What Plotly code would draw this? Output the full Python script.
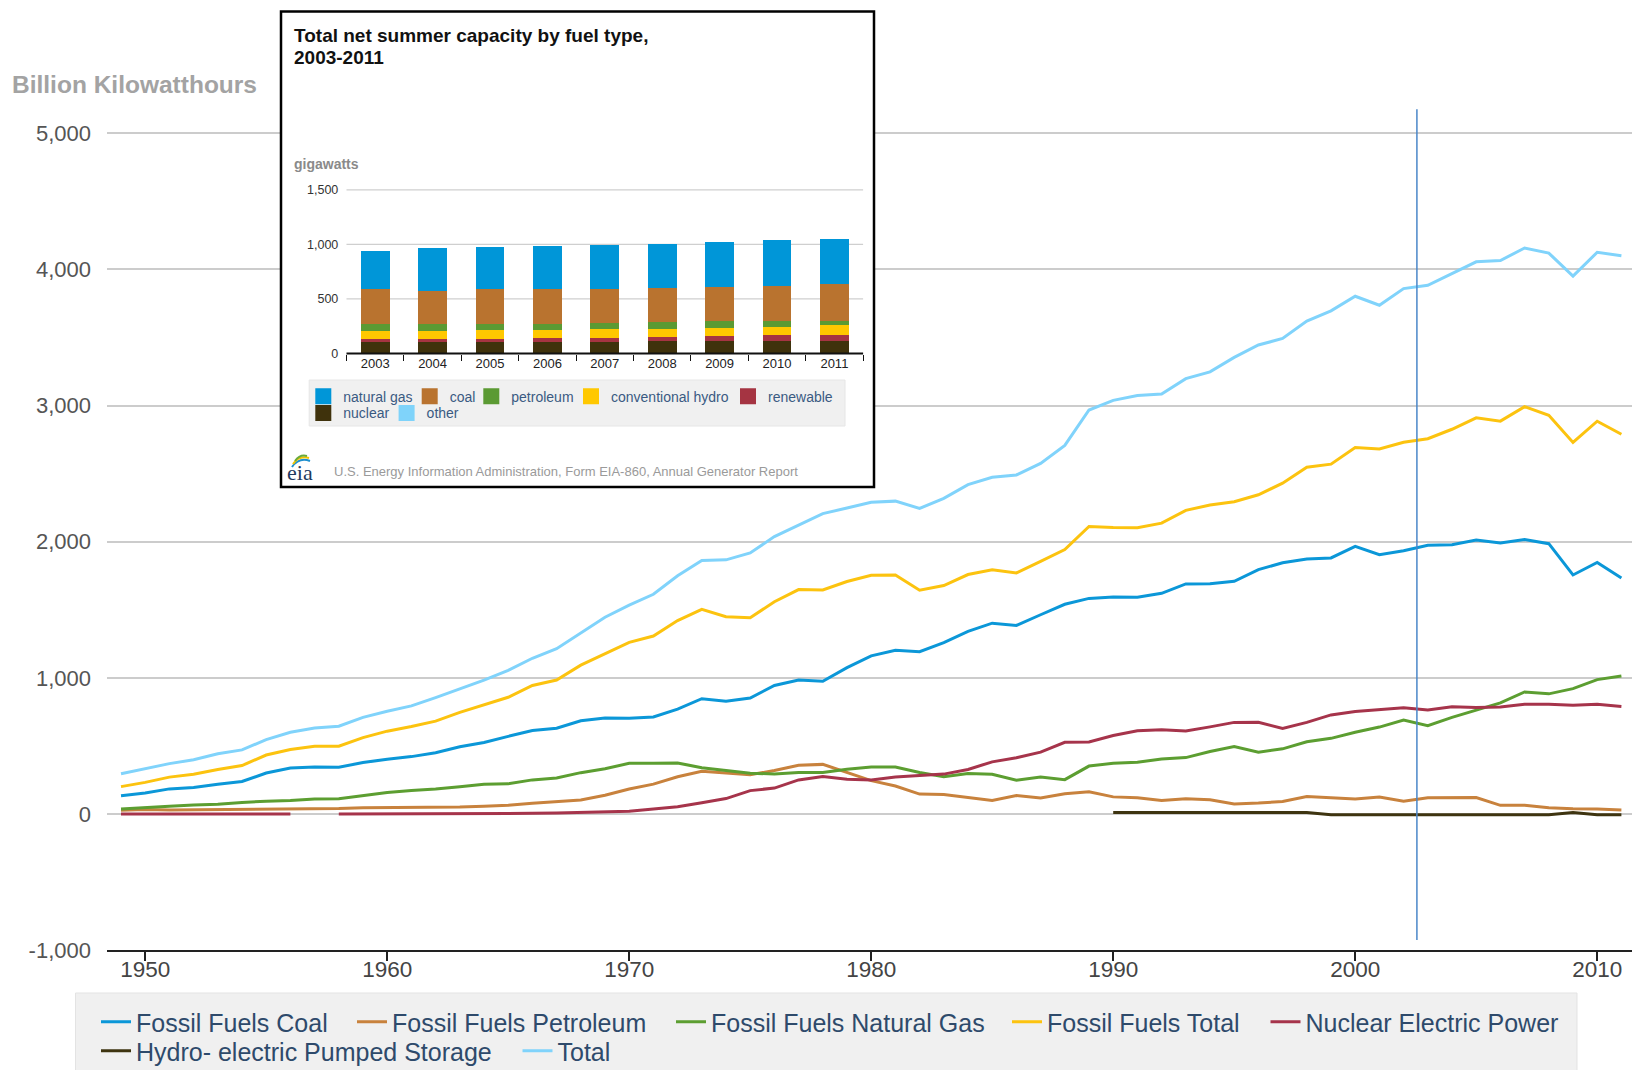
import plotly.graph_objects as go

# the figure fills the whole 1632x1070 page (body margin removed after drawing)
W, H = 1632, 1070
FONT = "Liberation Sans, Arial, sans-serif"

def px(x):
    return x / W

def py(y):
    return 1 - y / H

# ---------------- main chart data (billion kWh) ----------------
years = list(range(1949, 2012))

coal = [135.5, 154.5, 185.2, 195.4, 218.8, 239.1, 301.4, 338.5, 346.4, 344.4,
        378.4, 403.1, 422.2, 450.2, 493.9, 526.2, 570.9, 613.5, 630.5, 684.9,
        706.0, 704.4, 713.1, 771.1, 847.7, 828.4, 852.8, 944.4, 985.2, 975.7,
        1075.0, 1161.6, 1203.2, 1192.0, 1259.4, 1341.7, 1402.1, 1385.8, 1463.8, 1540.7,
        1583.8, 1594.0, 1592.2, 1621.2, 1690.1, 1690.7, 1709.4, 1795.2, 1845.0, 1873.5,
        1881.1, 1966.3, 1904.0, 1933.1, 1973.7, 1978.3, 2012.9, 1990.5, 2016.5, 1985.8,
        1755.9, 1847.3, 1733.4]

petroleum = [29.1, 33.7, 29.3, 30.6, 37.0, 32.8, 37.1, 36.3, 40.5, 40.4,
             47.0, 48.0, 48.5, 48.4, 52.0, 57.7, 64.8, 79.6, 89.3, 104.3,
             138.1, 184.2, 220.2, 274.3, 314.3, 300.9, 289.1, 320.0, 358.2, 365.1,
             303.5, 246.0, 206.4, 146.8, 144.5, 119.8, 100.2, 136.6, 118.5, 148.9,
             164.4, 126.5, 119.8, 100.2, 112.8, 105.9, 74.6, 81.4, 92.6, 128.8,
             118.1, 111.2, 124.9, 94.6, 119.4, 121.1, 122.2, 64.2, 65.7, 46.2,
             38.9, 37.1, 30.2]

natural_gas = [37.0, 44.6, 57.0, 66.5, 72.1, 84.8, 95.3, 100.0, 111.6, 113.4,
               136.0, 157.9, 173.2, 184.3, 201.6, 220.0, 222.1, 251.2, 264.8, 304.4,
               333.3, 372.9, 374.0, 375.7, 340.9, 320.1, 299.8, 294.6, 305.5, 305.4,
               329.5, 346.2, 345.8, 305.3, 274.1, 297.4, 291.9, 248.5, 272.6, 252.8,
               352.6, 372.8, 381.6, 404.1, 414.9, 460.2, 496.1, 455.1, 479.4, 531.3,
               556.4, 601.0, 639.1, 691.0, 649.9, 710.1, 761.0, 816.4, 896.6, 883.0,
               921.0, 987.7, 1013.7]

fossil_total = [201.8, 232.8, 271.5, 292.5, 327.9, 356.7, 433.8, 474.8, 498.5, 498.2,
                561.4, 609.0, 643.9, 682.9, 747.5, 803.9, 857.8, 944.3, 984.6, 1093.6,
                1177.4, 1261.5, 1307.3, 1421.1, 1502.9, 1449.4, 1441.7, 1559.0, 1648.9, 1646.2,
                1708.0, 1753.8, 1755.4, 1644.1, 1678.0, 1758.9, 1794.2, 1770.9, 1854.9, 1942.4,
                2111.9, 2103.6, 2103.0, 2136.6, 2230.5, 2269.3, 2293.5, 2344.4, 2430.0, 2547.3,
                2569.7, 2692.5, 2680.8, 2730.4, 2756.0, 2825.7, 2909.5, 2885.2, 2992.2, 2928.0,
                2729.4, 2885.0, 2789.4]

nuclear = [0, 0, 0, 0, 0, 0, 0, 0, None, 0.2,
           0.2, 0.5, 1.7, 2.3, 3.2, 3.3, 3.7, 5.5, 7.7, 12.5,
           13.9, 21.8, 38.1, 54.1, 83.5, 114.0, 172.5, 191.1, 250.9, 276.4,
           255.2, 251.1, 272.7, 282.8, 293.7, 327.6, 383.7, 414.0, 455.3, 527.0,
           529.4, 576.9, 612.6, 618.8, 610.3, 640.4, 673.4, 674.7, 628.6, 673.7,
           728.3, 753.9, 768.8, 780.1, 763.7, 788.5, 782.0, 787.2, 806.4, 806.2,
           798.9, 807.0, 790.2]

pumped_storage = [None] * 41 + [12, 12, 12, 12, 12, 12, 12, 12, 12,
                                -5, -5, -5, -5, -5, -5, -5, -5, -5, -5,
                                12, -5, -5]

total = [296.1, 334.1, 370.7, 399.2, 442.7, 471.7, 547.0, 600.7, 631.5, 645.0,
         710.0, 755.3, 794.5, 855.0, 916.8, 984.0, 1055.3, 1144.4, 1214.4, 1329.4,
         1445.5, 1535.1, 1613.9, 1750.0, 1861.4, 1867.1, 1917.6, 2037.7, 2124.3, 2206.3,
         2247.4, 2289.6, 2298.0, 2244.4, 2318.1, 2419.5, 2473.0, 2490.5, 2575.3, 2707.4,
         2967.1, 3037.8, 3073.8, 3083.9, 3197.2, 3247.5, 3353.5, 3444.2, 3492.2, 3620.3,
         3694.8, 3802.1, 3736.6, 3858.5, 3883.2, 3970.6, 4055.4, 4064.7, 4156.7, 4119.4,
         3950.3, 4125.1, 4100.1]

series_names = ["Fossil Fuels Coal", "Fossil Fuels Petroleum", "Fossil Fuels Natural Gas",
                "Fossil Fuels Total", "Nuclear Electric Power",
                "Hydro- electric Pumped Storage", "Total"]
series_values = [coal, petroleum, natural_gas, fossil_total, nuclear, pumped_storage, total]
series_colors = ["#0b97d8", "#c8823d", "#5c9e31", "#fcc30f", "#a6344b", "#3e3410", "#80d3fb"]

y_tickvals = [-1000, 0, 1000, 2000, 3000, 4000, 5000]
y_ticktext = ["-1,000", "0", "1,000", "2,000", "3,000", "4,000", "5,000"]
x_tickvals = [1950, 1960, 1970, 1980, 1990, 2000, 2010]

# ---------------- inset data (gigawatts) ----------------
inset_years = ["2003", "2004", "2005", "2006", "2007", "2008", "2009", "2010", "2011"]
inset_names = ["other", "nuclear", "renewable", "conventional hydro", "petroleum", "coal", "natural gas"]
inset_other = [6, 6, 6, 6, 6, 6, 6, 6, 6]
inset_nuclear = [100, 99, 99, 99, 99, 106, 106, 106, 106]
inset_renewable = [24, 25, 25, 34, 34, 39, 48, 58, 58]
inset_hydro = [77, 77, 86, 74, 86, 74, 75, 77, 89]
inset_petroleum = [65, 65, 56, 59, 56, 68, 64, 52, 40]
inset_coal = [321, 305, 321, 321, 312, 309, 312, 324, 334]
inset_gas = [348, 386, 382, 392, 404, 404, 408, 417, 416]
inset_values = [inset_other, inset_nuclear, inset_renewable, inset_hydro,
                inset_petroleum, inset_coal, inset_gas]
inset_colors = ["#7fd3fa", "#3f320c", "#a53442", "#ffc800", "#5b9a33", "#b9732f", "#0096d8"]
inset_ytickvals = [0, 500, 1000, 1500]
inset_yticktext = ["0", "500", "1,000", "1,500"]

fig = go.Figure()

# main legend positions (text start x, row center y) in page pixels
main_legend_pos = [(136, 1022), (392, 1022), (711, 1022), (1047, 1022), (1305.5, 1022),
                   (136, 1051), (557.5, 1051)]

legends = {}
for i, (name, vals, col) in enumerate(zip(series_names, series_values, series_colors)):
    lname = "legend" if i == 0 else f"legend{i + 1}"
    fig.add_trace(go.Scatter(x=years, y=vals, mode="lines", name=name,
                             line=dict(color=col, width=3), legend=lname,
                             connectgaps=False, hoverinfo="skip",
                             xaxis="x", yaxis="y"))
    tx, ty = main_legend_pos[i]
    legends[lname] = dict(x=px(tx - 40), y=py(ty), xanchor="left", yanchor="middle",
                          orientation="h", bgcolor="rgba(0,0,0,0)", borderwidth=0,
                          itemwidth=30, font=dict(family=FONT, size=25, color="#2e4a6b"))

# inset bars
for name, vals, col in zip(inset_names, inset_values, inset_colors):
    fig.add_trace(go.Bar(x=inset_years, y=vals, name=name, marker=dict(color=col, line=dict(width=0)),
                         width=0.5, showlegend=False, hoverinfo="skip",
                         xaxis="x2", yaxis="y2"))

# inset legend (legend-only entries)
inset_legend_order = ["natural gas", "coal", "petroleum", "conventional hydro", "renewable",
                      "nuclear", "other"]
inset_legend_pos = [(343.3, 396.7), (449.7, 396.7), (511.3, 396.7), (611, 396.7), (768, 396.7),
                    (343.3, 413.3), (426.6, 413.3)]
for j, name in enumerate(inset_legend_order):
    col = inset_colors[inset_names.index(name)]
    lname = f"legend{8 + j}"
    fig.add_trace(go.Scatter(x=[None], y=[None], mode="markers", name=name,
                             marker=dict(symbol="square", size=16, color=col),
                             legend=lname, hoverinfo="skip", xaxis="x", yaxis="y"))
    tx, ty = inset_legend_pos[j]
    legends[lname] = dict(x=px(tx - 40), y=py(ty), xanchor="left", yanchor="middle",
                          orientation="h", bgcolor="rgba(0,0,0,0)", borderwidth=0,
                          itemwidth=30, font=dict(family=FONT, size=14, color="#3a5a82"))

shapes = []
# main legend background
shapes.append(dict(type="rect", xref="paper", yref="paper", x0=px(75.5), x1=px(1577),
                   y0=py(1075), y1=py(993), fillcolor="#f0f0f0",
                   line=dict(color="#e3e3e3", width=1), layer="below"))
# highlight vertical line
shapes.append(dict(type="line", xref="x", yref="y", x0=2002.55, x1=2002.55, y0=-925, y1=5175,
                   line=dict(color="#4a87c9", width=1.5), layer="above"))
# inset gridlines
for v in inset_ytickvals[1:]:
    shapes.append(dict(type="line", xref="x2", yref="y2", x0=-0.5, x1=8.5, y0=v, y1=v,
                       line=dict(color="#cfcfcf", width=1.2), layer="below"))
# inset baseline
shapes.append(dict(type="line", xref="x2", yref="y2", x0=-0.5, x1=8.5, y0=0, y1=0,
                   line=dict(color="#111111", width=2), layer="above"))
# inset legend background
shapes.append(dict(type="rect", xref="paper", yref="paper", x0=px(309.2), x1=px(845),
                   y0=py(426), y1=py(380), fillcolor="#f0f0f0",
                   line=dict(color="#e6e6e6", width=1), layer="above"))
# inset border
shapes.append(dict(type="rect", xref="paper", yref="paper", x0=px(281), x1=px(874),
                   y0=py(487), y1=py(11.5), fillcolor="rgba(0,0,0,0)",
                   line=dict(color="#000000", width=2.5), layer="above"))
# eia logo arcs
def arc(p0, c, p1):
    return (f"M {px(p0[0])} {py(p0[1])} Q {px(c[0])} {py(c[1])} {px(p1[0])} {py(p1[1])}")
for (p0, c, p1), col in [(((292, 467), (299, 457), (310, 461)), "#1e90cf"),
                          (((293, 464), (299, 455), (309, 458)), "#f5c400"),
                          (((295, 461), (300, 454), (307, 456)), "#6aaa3a")]:
    shapes.append(dict(type="path", xref="paper", yref="paper", path=arc(p0, c, p1),
                       line=dict(color=col, width=2), layer="above"))

annotations = [
    dict(text="<b>Billion Kilowatthours</b>", x=px(10), y=py(84), xref="paper", yref="paper",
         xanchor="left", yanchor="middle", showarrow=False,
         font=dict(family=FONT, size=24.5, color="#a3a3a3")),
    dict(text="<b>Total net summer capacity by fuel type,</b>", x=px(292), y=py(35.5),
         xref="paper", yref="paper", xanchor="left", yanchor="middle", showarrow=False,
         font=dict(family=FONT, size=19, color="#111111")),
    dict(text="<b>2003-2011</b>", x=px(292), y=py(58), xref="paper", yref="paper",
         xanchor="left", yanchor="middle", showarrow=False,
         font=dict(family=FONT, size=19, color="#111111")),
    dict(text="<b>gigawatts</b>", x=px(292), y=py(164), xref="paper", yref="paper",
         xanchor="left", yanchor="middle", showarrow=False,
         font=dict(family=FONT, size=14, color="#8a8a8a")),
    dict(text="U.S. Energy Information Administration, Form EIA-860, Annual Generator Report",
         x=px(332), y=py(472), xref="paper", yref="paper", xanchor="left", yanchor="middle",
         showarrow=False, font=dict(family=FONT, size=13, color="#9a9a9a")),
    dict(text="eia", x=px(300), y=py(473), xref="paper", yref="paper", xanchor="center",
         yanchor="middle", showarrow=False,
         font=dict(family="Liberation Serif, DejaVu Serif, serif", size=22, color="#1f3a5f")),
]

X_LEFT, X_RIGHT = 107, 1632          # page pixels of main plot area
PX_PER_YEAR, X1949 = 24.2, 121.0
layout = dict(
    width=W, height=H, autosize=False,
    margin=dict(l=0, r=0, t=0, b=0, autoexpand=False),
    paper_bgcolor="white", plot_bgcolor="white",
    font=dict(family=FONT),
    hovermode=False,
    barmode="stack",
    xaxis=dict(domain=[px(X_LEFT), px(X_RIGHT)],
               range=[1949 - (X1949 - X_LEFT) / PX_PER_YEAR, 1949 + (X_RIGHT - X1949) / PX_PER_YEAR],
               anchor="y", automargin=False,
               tickvals=x_tickvals, ticks="outside", ticklen=9, tickwidth=1.5,
               tickcolor="#222222", showline=True, linecolor="#222222", linewidth=2,
               showgrid=False, zeroline=False, ticklabelstandoff=-11,
               tickfont=dict(family=FONT, size=22.5, color="#444444")),
    yaxis=dict(domain=[py(950.3), py(105.9)], range=[-1000, 5200], anchor="x",
               automargin=False,
               tickvals=y_tickvals, ticktext=y_ticktext, showgrid=True,
               gridcolor="#cccccc", gridwidth=1.5, zeroline=False, showline=False,
               ticks="", ticklabelstandoff=15,
               tickfont=dict(family=FONT, size=22, color="#555555")),
    xaxis2=dict(domain=[px(281), px(874)], range=[-1.641, 8.690], anchor="free",
                position=py(353.5), type="category", tickson="boundaries",
                automargin=False,
                ticks="outside", ticklen=6, tickwidth=1, tickcolor="#111111",
                showline=False, showgrid=False, zeroline=False,
                tickfont=dict(family=FONT, size=13, color="#222222")),
    yaxis2=dict(domain=[py(487), py(11.5)], range=[-1223.3, 3133.9], anchor="free",
                position=px(346.3), tickvals=inset_ytickvals, ticktext=inset_yticktext,
                automargin=False,
                showgrid=False, zeroline=False, showline=False, ticks="",
                ticklabelstandoff=8,
                tickfont=dict(family=FONT, size=12.5, color="#333333")),
    shapes=shapes,
    annotations=annotations,
)
layout.update(legends)
fig.update_layout(**layout)

fig.write_html("out.html",
               config={"displayModeBar": False, "staticPlot": False},
               post_script="document.body.style.margin='0px';"
                           "document.documentElement.style.overflow='hidden';")
